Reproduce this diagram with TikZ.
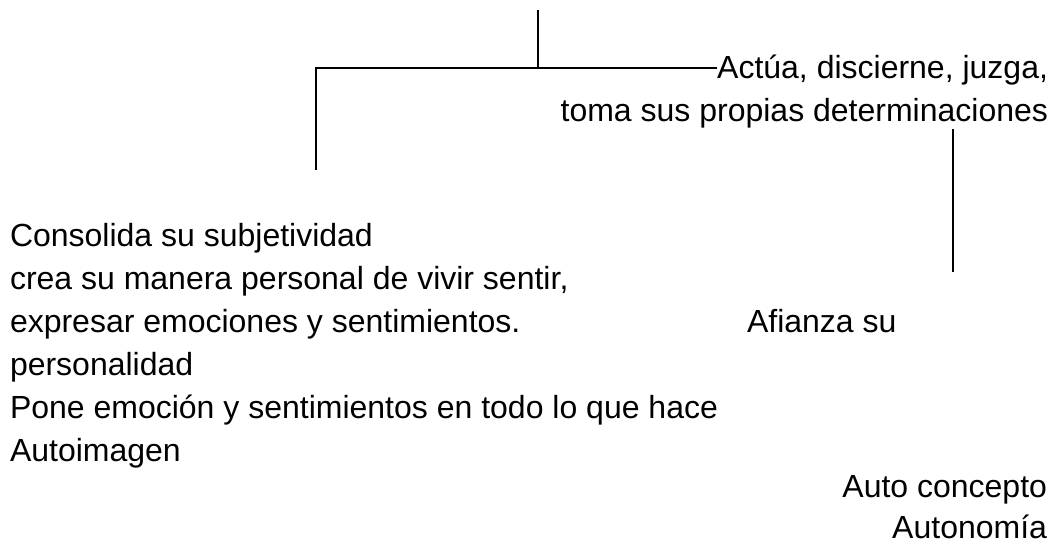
\documentclass[tikz,border=0pt]{standalone}
\usepackage{fontspec}
\setmainfont{Liberation Sans}
\begin{document}
\begin{tikzpicture}[x=1pt,y=-1pt,
  txt/.style={inner sep=0pt,outer sep=0pt,font=\fontsize{32}{38}\selectfont},
  lft/.style={txt,anchor=base west},
  rgt/.style={txt,anchor=base east},
  ln/.style={line width=1.2pt,black}]
\useasboundingbox (0,0) rectangle (1054,543);
% right block
\node[rgt] (actua) at (1048,78) {Actúa, discierne, juzga,};
\node[rgt] (toma) at (1048,121) {toma sus propias determinaciones};
% left block
\node[lft] (l1) at (10,246) {Consolida su subjetividad};
\node[lft] (l2) at (10,289) {crea su manera personal de vivir sentir,};
\node[lft] (l3) at (10,332) {expresar emociones y sentimientos.};
\node[lft] (afianza) at (747,332) {Afianza su};
\node[lft] (l4) at (10,375) {personalidad};
\node[lft] (l5) at (10,418) {Pone emoción y sentimientos en todo lo que hace};
\node[lft] (l6) at (10,461) {Autoimagen};
\node[rgt] (auto) at (1047,497) {Auto concepto};
\node[rgt] (autonomia) at (1047,538) {Autonomía};
% connectors
\coordinate (top) at (538,10);
\coordinate (j) at (538,68);
\coordinate (lend) at (316,170);
\coordinate (rtop) at (953,129);
\coordinate (rbot) at (953,272);
\draw[ln] (top) -- (j);
\draw[ln] (lend) |- (actua.west |- j);
\draw[ln] (rtop) -- (rbot);
\end{tikzpicture}
\end{document}
